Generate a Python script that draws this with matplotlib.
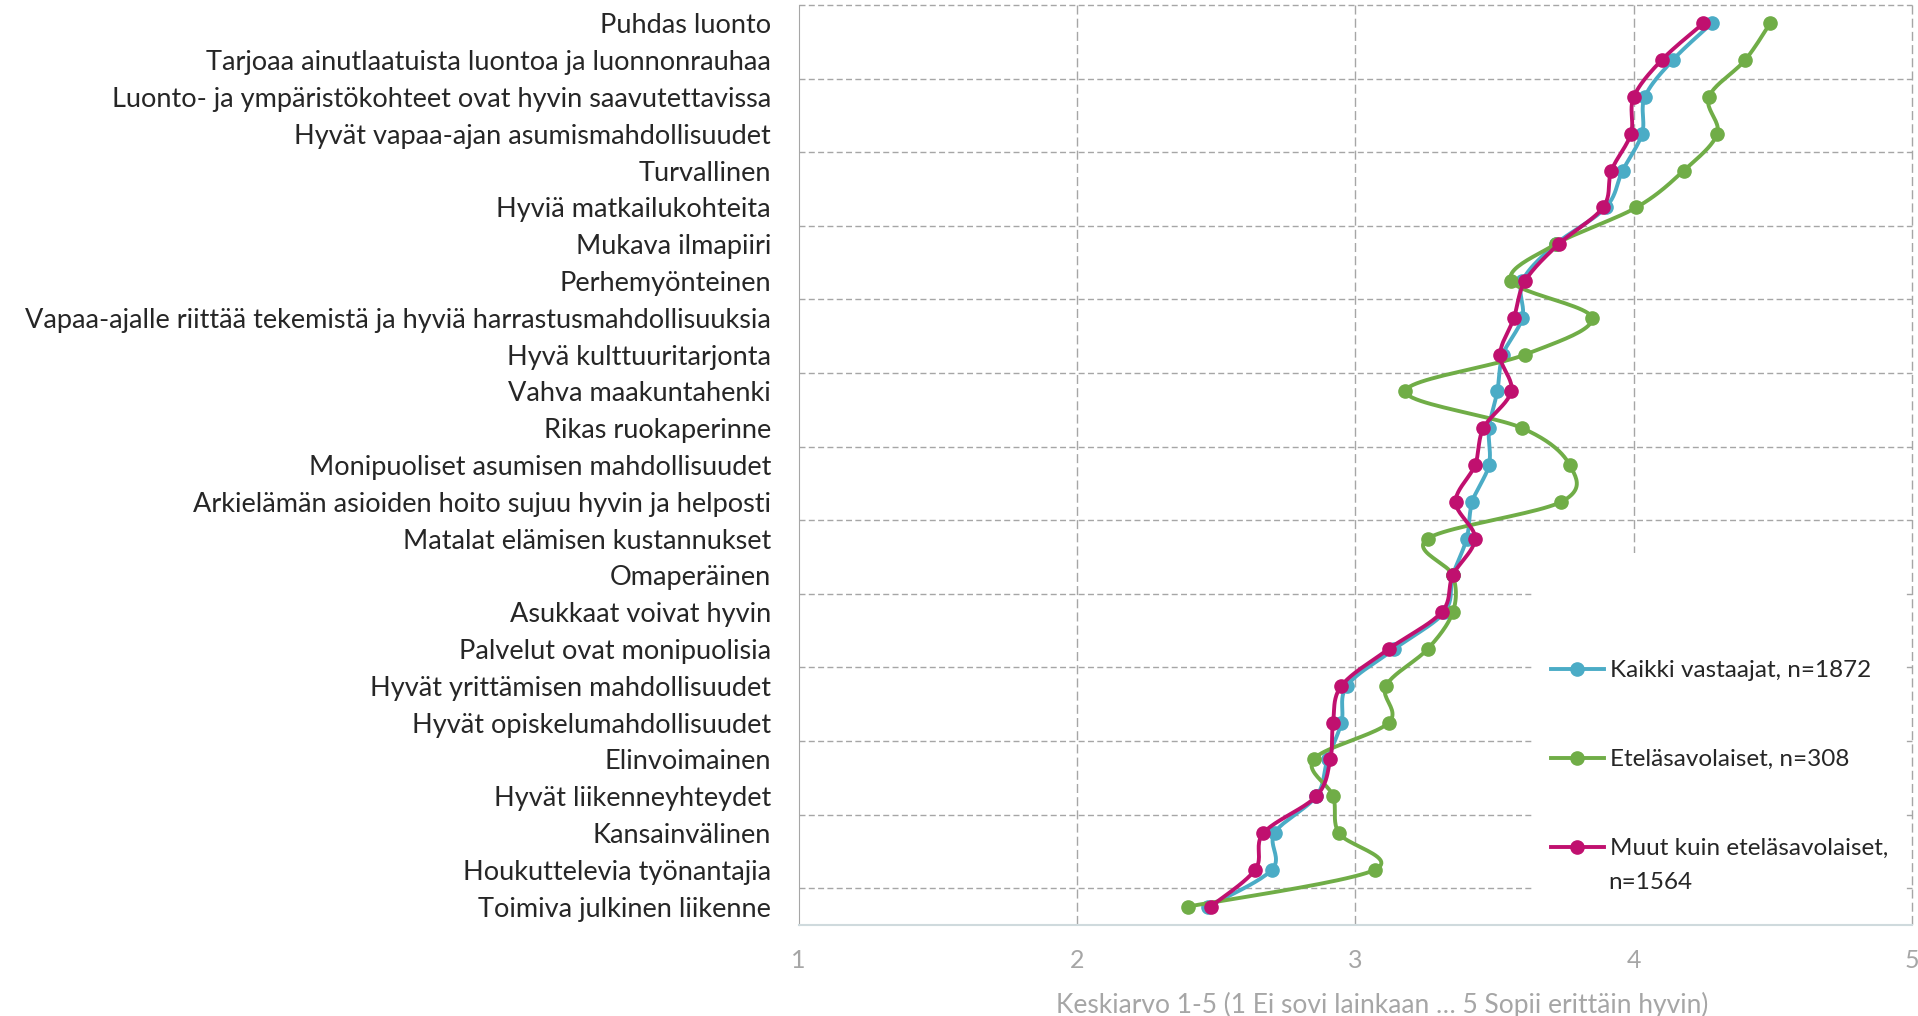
import numpy as np
import matplotlib.pyplot as plt
from matplotlib.lines import Line2D
from matplotlib.patches import Rectangle

plt.rcParams['font.family'] = ['Lato', 'DejaVu Sans']

categories = [
    "Puhdas luonto",
    "Tarjoaa ainutlaatuista luontoa ja luonnonrauhaa",
    "Luonto- ja ympäristökohteet ovat hyvin saavutettavissa",
    "Hyvät vapaa-ajan asumismahdollisuudet",
    "Turvallinen",
    "Hyviä matkailukohteita",
    "Mukava ilmapiiri",
    "Perhemyönteinen",
    "Vapaa-ajalle riittää tekemistä ja hyviä harrastusmahdollisuuksia",
    "Hyvä kulttuuritarjonta",
    "Vahva maakuntahenki",
    "Rikas ruokaperinne",
    "Monipuoliset asumisen mahdollisuudet",
    "Arkielämän asioiden hoito sujuu hyvin ja helposti",
    "Matalat elämisen kustannukset",
    "Omaperäinen",
    "Asukkaat voivat hyvin",
    "Palvelut ovat monipuolisia",
    "Hyvät yrittämisen mahdollisuudet",
    "Hyvät opiskelumahdollisuudet",
    "Elinvoimainen",
    "Hyvät liikenneyhteydet",
    "Kansainvälinen",
    "Houkuttelevia työnantajia",
    "Toimiva julkinen liikenne",
]

kaikki = [4.28, 4.14, 4.04, 4.03, 3.96, 3.90, 3.72, 3.60, 3.60, 3.53, 3.51, 3.48, 3.48,
          3.42, 3.40, 3.35, 3.32, 3.14, 2.97, 2.95, 2.90, 2.86, 2.71, 2.70, 2.47]
etela = [4.49, 4.40, 4.27, 4.30, 4.18, 4.01, 3.72, 3.56, 3.85, 3.61, 3.18, 3.60, 3.77,
         3.74, 3.26, 3.35, 3.35, 3.26, 3.11, 3.12, 2.85, 2.92, 2.94, 3.07, 2.40]
muut = [4.25, 4.10, 4.00, 3.99, 3.92, 3.89, 3.73, 3.61, 3.57, 3.52, 3.56, 3.46, 3.43,
        3.36, 3.43, 3.35, 3.31, 3.12, 2.95, 2.92, 2.91, 2.86, 2.67, 2.64, 2.48]

series_names = ["Kaikki vastaajat, n=1872", "Eteläsavolaiset, n=308", "Muut kuin eteläsavolaiset,"]
colors = ["#4bacc6", "#70ad47", "#c0106f"]
x_ticks = [1, 2, 3, 4, 5]


def smooth(xs, ys, steps=24):
    # excel style smoothed line (catmull-rom as bezier)
    pts = np.column_stack([xs, ys]).astype(float)
    ext = np.vstack([pts[0], pts, pts[-1]])
    t = np.linspace(0, 1, steps)[:, None]
    out = []
    for i in range(len(pts) - 1):
        p0, p1, p2, p3 = ext[i], ext[i + 1], ext[i + 2], ext[i + 3]
        c1 = p1 + (p2 - p0) / 6
        c2 = p2 - (p3 - p1) / 6
        seg = (1 - t) ** 3 * p1 + 3 * (1 - t) ** 2 * t * c1 + 3 * (1 - t) * t ** 2 * c2 + t ** 3 * p2
        out.append(seg if i == 0 else seg[1:])
    out = np.vstack(out)
    return out[:, 0], out[:, 1]


fig = plt.figure(figsize=(19.18, 10.16), dpi=100)
ax = fig.add_axes([0.4164, 0.0896, 0.5805, 0.9055])

rows = np.arange(len(categories))
ax.set_xlim(1, 5)
ax.set_ylim(len(categories) - 0.5, -0.5)

# grid
ax.vlines(x_ticks[1:], -0.5, len(categories) - 0.5, colors="#a6a6a6", lw=1.0,
          linestyles=(0, (6.5, 3)), zorder=1, clip_on=False)
ax.hlines(np.arange(-0.5, len(categories), 2), 1, 5, colors="#a6a6a6", lw=1.0,
          linestyles=(0, (4.3, 2.4)), zorder=1, clip_on=False)

# legend area covers the grid
ax.add_patch(Rectangle((0.6587, 0), 0.3359, 0.4043, transform=ax.transAxes,
                       facecolor="white", edgecolor="none", zorder=1.5))

for vals, c in zip([kaikki, etela, muut], colors):
    sx, sy = smooth(vals, rows)
    ax.plot(sx, sy, color=c, lw=2.8, zorder=3, solid_capstyle="round")
    ax.plot(vals, rows, "o", color=c, ms=9.5, zorder=3)

ax.set_yticks(rows)
ax.set_yticklabels(categories)
ax.set_xticks(x_ticks)
ax.tick_params(axis="y", length=0, pad=20, labelsize=19.5, labelcolor="#262626")
ax.tick_params(axis="x", length=0, pad=17, labelsize=18, labelcolor="#a6a6a6")

for s in ["top", "right"]:
    ax.spines[s].set_visible(False)
ax.spines["left"].set_color("#a6a6a6")
ax.spines["bottom"].set_color("#cfdadd")
ax.spines["bottom"].set_linewidth(1.5)

ax.set_xlabel("Keskiarvo 1-5 (1 Ei sovi lainkaan … 5 Sopii erittäin hyvin)",
              fontsize=19, color="#a6a6a6")
ax.xaxis.set_label_coords(0.524, -0.073)

handles = [Line2D([], [], color=c, lw=2.8, marker="o", ms=9.5) for c in colors]
leg = ax.legend(handles, series_names, loc="upper left", bbox_to_anchor=(0.6755, 0.288),
                frameon=False, fontsize=17.5, handlelength=2.2, handletextpad=0.25,
                labelspacing=2.8, borderpad=0, borderaxespad=0)
for t in leg.get_texts():
    t.set_color("#262626")
ax.text(0.727, 0.0467, "n=1564", transform=ax.transAxes, fontsize=17.5,
        color="#262626", va="center", ha="left")

fig.savefig("out.png", dpi=100)
